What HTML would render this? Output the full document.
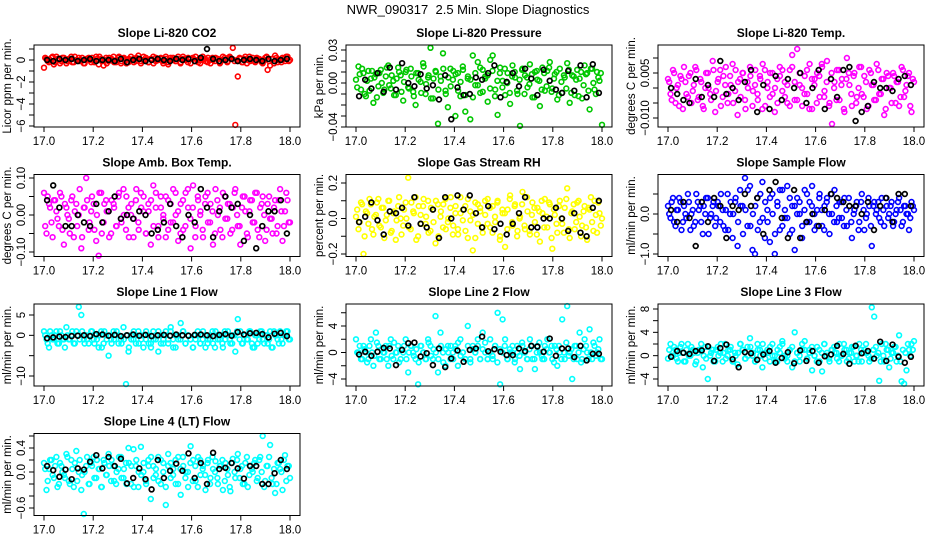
<!DOCTYPE html>
<html><head><meta charset="utf-8"><title>NWR_090317 Slope Diagnostics</title>
<style>
html,body{margin:0;padding:0;background:#fff;}
svg{display:block;font-family:"Liberation Sans",sans-serif;}
</style></head>
<body>
<svg id="chart" width="936" height="540" viewBox="0 0 936 540" xmlns="http://www.w3.org/2000/svg">
<text x="468" y="14" text-anchor="middle" font-size="13" xml:space="preserve">NWR_090317  2.5 Min. Slope Diagnostics</text>
</svg>
<script>
// ---- data (y values; x is evenly spaced sample time 17.0..18.0) ----
const xTicks = [17.0, 17.2, 17.4, 17.6, 17.8, 18.0];
const xTickLabels = ["17.0", "17.2", "17.4", "17.6", "17.8", "18.0"];

const p1Col = [-0.7,0.1,-0.2,0.2,-0.4,0.3,0.0,-0.1,0.2,-0.3,0.1,0.3,-0.2,0.0,0.2,-0.1,-0.3,0.1,0.2,-0.2,0.0,0.3,-0.4,0.1,-0.5,0.2,-0.1,0.0,0.3,-0.2,0.2,-0.3,0.1,0.0,-0.2,0.3,0.1,-0.1,0.4,-0.3,0.0,0.2,-0.2,0.1,0.3,-0.1,0.0,0.2,-0.3,0.1,-0.4,0.2,0.0,-0.1,0.3,-0.2,0.1,0.0,0.2,-0.3,0.1,0.3,-0.2,0.0,0.1,-0.1,0.2,-0.3,0.0,0.2,0.1,-0.2,0.3,0.0,-0.1,0.2,1.1,-5.9,-1.5,0.1,-0.2,0.3,0.0,-0.1,0.2,-0.2,0.1,0.0,-0.3,0.2,-0.9,-0.5,0.1,0.4,-0.2,0.0,0.2,-0.1,0.3,0.0];
const p1Col2 = [0.2,-0.1,0.0,0.3,-0.2,0.1,-0.3,0.2,0.0,-0.1,0.1,-0.2,0.3,0.0,-0.1,0.2,-0.3,0.1,0.0,0.2,-0.2,0.1,0.3,-0.1,0.0,-0.3,0.2,0.1,-0.2,0.0,0.3,-0.1,0.2,-0.3,0.1,0.0,-0.2,0.2,0.1,-0.1,0.3,0.0,-0.2,0.1,-0.3,0.2,0.0,0.1,-0.1,0.3,-0.2,0.0,0.2,-0.1,0.1,-0.3,0.3,0.0,-0.2,0.1,0.2,-0.1,0.0,-0.3,0.3,0.1,-0.2,0.0,0.2,-0.1,0.1,-0.3,0.0,0.2,-0.2,0.3,0.1,-0.1,0.0,0.2,-0.2,0.1,-0.3,0.3,0.0,-0.1,0.2,0.1,-0.2,0.0,0.3,-0.1,0.1,-0.3,0.2,0.0,-0.2,0.1,0.3,-0.1];
const p1Blk = [0.0,-0.1,0.1,0.0,0.1,-0.1,0.0,0.1,-0.1,0.0,0.0,-0.1,0.1,-0.2,0.0,0.1,-0.1,0.0,0.1,0.0,-0.1,0.1,0.0,0.1,-0.1,0.2,1.0,0.1,-0.1,0.0,0.1,-0.1,0.0,0.1,0.0,-0.1,0.1,-0.1,0.0,0.1];

const p2Col = [.003,.015,-.006,.009,-.012,.011,.004,-.018,.008,-.003,.012,-.009,.006,.016,-.005,.002,-.011,.014,.007,-.016,.010,-.004,.013,-.008,-.020,.009,.001,.018,-.010,.005,.032,-.014,.011,-.037,.006,.027,-.007,-.022,.013,.003,-.030,.009,-.012,.015,-.026,.004,-.033,.025,-.002,.019,-.009,.012,.006,-.017,.021,.025,-.006,-.029,.014,.002,-.011,.009,-.019,.016,.005,-.010,-.039,.013,.007,-.004,.017,-.013,.010,.003,-.021,.014,-.007,.011,.019,-.005,.008,-.015,.013,-.009,.005,.018,-.018,.007,-.011,.012,.004,-.014,.016,.009,-.024,.013,-.006,.010,.002,-.038];
const p2Col2 = [-.004,.008,.013,-.010,.002,-.007,.011,.005,-.013,.009,.000,-.006,.014,-.002,.007,-.011,.004,.010,-.008,.001,.012,-.005,.006,-.012,.009,.003,-.009,.015,-.001,.007,-.014,.004,.010,-.006,.002,.013,-.010,.005,-.003,.011,.008,-.007,.001,.012,-.011,.006,.003,-.013,.009,-.002,.014,-.008,.004,.007,-.005,.011,-.012,.002,.009,-.004,.013,.000,-.009,.006,.010,-.007,.003,.012,-.010,.005,-.001,.008,-.013,.011,.002,-.006,.009,-.003,.014,-.008,.004,.010,-.011,.001,.007,-.005,.012,-.009,.006,.003,-.012,.010,-.002,.008,-.007,.013,.000,-.010,.005,.009];
const p2Blk = [-.012,.003,-.005,.009,-.008,.014,-.006,.018,.000,-.003,.008,-.005,-.002,-.015,.007,-.033,-.004,-.011,-.010,.005,.003,.009,.016,-.013,.001,.009,-.003,.013,.004,-.011,.012,.002,-.006,-.009,.011,-.007,.016,-.013,.017,-.009];

const p3Col = [.003,-.002,.006,-.005,.001,.004,-.007,.002,-.003,.005,-.001,.007,-.004,.003,-.006,.000,.005,-.002,.009,-.008,.002,.006,-.003,.001,-.005,.004,.008,-.001,-.009,.003,.005,-.004,.002,.007,-.006,.001,-.002,.004,-.007,.006,.000,-.003,.005,-.008,.003,.007,-.001,.002,-.005,.006,.011,-.004,.013,.001,-.006,.004,-.002,.008,-.007,.003,.005,-.003,.007,-.001,.009,-.005,-.012,.002,.006,-.004,.003,-.008,.010,.001,-.006,.005,-.003,.007,-.002,.004,-.007,.006,.001,-.004,.008,-.002,.003,-.009,.005,.000,-.005,.004,.002,-.006,.007,-.003,.001,.005,-.008,.002];
const p3Col2 = [.002,-.004,.005,.000,-.006,.003,.007,-.002,.004,-.005,.001,.006,-.003,.002,-.007,.005,.000,-.004,.006,-.001,.003,-.006,.004,.007,-.002,.001,-.005,.006,.002,-.003,.005,-.007,.000,.004,-.001,.006,-.004,.003,.008,-.006,.002,.005,-.002,.000,-.005,.004,.006,-.003,.001,-.006,.007,.002,-.004,.005,.000,-.002,.006,-.007,.003,.001,-.005,.004,.008,-.003,.002,-.006,.005,.000,-.004,.006,.001,-.007,.003,.005,-.002,.004,-.005,.000,.007,-.003,.002,-.006,.005,.001,-.004,.006,-.002,.003,-.007,.004,.000,.005,-.005,.002,-.003,.006,-.001,.004,-.006,.003];
const p3Blk = [.000,-.002,-.004,-.005,.003,-.003,.001,-.003,.009,-.002,.000,-.004,.002,.006,-.008,.001,-.007,.004,-.004,.003,.000,.005,-.005,.000,.006,-.007,.003,-.003,.006,.007,-.011,-.008,-.006,.002,.000,.000,-.001,.003,.004,.001];

const p4Col = [.06,-.05,.03,-.02,.04,.01,-.03,.05,-.08,.02,-.01,.04,-.06,.03,.00,-.09,.02,.10,-.04,.01,.03,-.07,-.11,.06,-.02,.04,.01,-.05,.03,-.03,.05,-.01,.07,-.04,.02,.00,-.06,.04,-.02,.06,.01,-.05,.03,-.08,.08,.02,-.03,.05,-.01,-.06,.04,-.02,.07,.00,-.07,.03,-.04,.06,.02,-.09,.08,-.03,.04,.01,-.06,.05,-.02,.03,-.08,.07,.00,-.04,.06,-.01,.03,-.05,.02,.07,-.03,-.08,.05,.01,-.06,.04,-.02,.06,-.04,.02,.05,-.07,.03,-.01,-.05,.04,-.03,.07,-.07,.01,.04,-.02];
const p4Col2 = [-.03,.05,.02,-.06,.04,-.01,.06,-.04,.03,.00,-.05,.05,.01,-.03,.07,-.06,.02,.04,-.02,.05,-.04,.00,.06,-.05,.03,.01,-.06,.04,.02,-.03,.06,-.02,.00,.05,-.06,.03,-.01,.07,-.04,.02,.05,-.05,.01,.04,-.03,.06,-.06,.02,.00,.05,-.04,.03,-.02,.06,.01,-.05,.04,-.03,.07,-.01,.02,-.06,.05,.00,-.04,.03,.06,-.02,.01,-.05,.04,.02,-.06,.05,-.01,.03,-.04,.06,.00,-.03,.02,.05,-.05,.01,.04,-.02,.06,-.06,.03,.00,-.04,.05,-.01,.02,-.05,.04,.01,-.03,.06,-.02];
const p4Blk = [.04,.08,.02,-.03,-.03,.00,-.02,-.03,.03,-.02,.01,.05,-.01,.00,-.01,.01,.00,-.05,-.04,-.02,.03,-.03,-.06,.00,-.02,.07,.02,-.06,.01,.05,.02,.03,-.07,.00,-.09,-.03,.01,.01,.04,-.05];

const p5Col = [.01,-.06,.09,-.20,.04,-.03,.08,-.09,.02,.11,-.05,.06,-.01,.10,-.08,.03,-.12,.07,.00,-.04,.09,.23,-.06,.04,.12,-.10,.02,.07,-.03,.10,-.07,.05,-.14,.08,.01,-.05,.11,-.02,.06,-.09,.03,-.06,.12,-.01,.07,-.11,.04,-.18,.09,-.03,.06,-.08,.02,.11,-.05,.07,-.02,.10,-.10,.03,-.16,.05,.13,-.04,.08,-.07,.01,.15,-.06,.04,-.09,.09,-.02,.06,-.13,.03,.11,-.05,.08,-.17,.02,-.08,.10,-.03,.06,.17,-.11,.04,-.06,.09,.01,-.04,.07,-.12,.05,-.02,.10,-.08,.03,.00];
const p5Col2 = [.05,-.02,.08,-.10,.03,.11,-.06,.01,.09,-.04,.06,-.11,.02,.10,-.07,.04,-.01,.12,-.09,.05,.00,-.05,.09,.03,-.12,.07,-.03,.11,.01,-.08,.06,-.02,.10,-.10,.04,.08,-.06,.00,.12,-.04,.07,-.09,.03,.05,-.07,.11,-.01,.02,-.11,.08,.04,-.05,.10,-.03,.06,-.08,.01,.09,-.12,.05,.03,-.06,.11,-.02,.07,-.10,.00,.08,-.04,.12,-.07,.02,.06,-.09,.04,.10,-.05,.01,.09,-.11,.05,-.03,.07,.00,-.08,.11,-.06,.03,.08,-.02,.10,-.10,.04,-.05,.06,.12,-.07,.02,.09,-.04];
const p5Blk = [-.02,.01,.09,-.01,-.09,.04,.03,.06,-.04,.12,-.03,-.05,.05,-.11,.12,.00,.13,.05,.13,.03,-.05,.07,-.06,-.03,-.09,-.03,.03,.12,-.05,-.05,.00,.00,.06,.00,-.07,.03,-.08,-.10,.06,.10];

const p6Col = [.2,-.1,.4,-.3,.1,.3,-.2,.0,.5,-.4,.1,-.2,.3,.2,-.5,.0,.4,-.1,.2,-.3,.3,-.2,.1,-.4,.5,.0,-.6,.3,-.8,.6,.2,.9,-.3,.7,-.9,-1.0,.4,-.2,.8,-.6,.1,-.7,.5,-1.0,.3,-.4,.6,-.1,.7,-.5,.2,-.9,.4,.0,-.3,.6,-.2,.3,.7,-.4,.1,.5,-.3,.2,.4,-.5,.0,.6,-.2,.3,-.1,.4,-.3,.2,-.6,.1,.3,-.2,.5,-.4,.0,.2,-.8,.3,.1,-.1,.4,-.3,.2,.0,.3,-.2,.1,.4,-.3,.2,.0,-.4,.3,.1];
const p6Col2 = [.0,.3,-.2,.1,.4,-.4,.2,-.1,.3,.0,-.3,.5,.1,-.2,.2,.4,-.5,.0,.3,-.1,.2,.5,-.3,.1,-.4,.3,.0,.4,-.2,.2,-.5,.1,.6,-.3,.0,.2,-.4,.5,-.1,.3,-.2,.4,.0,-.5,.2,.6,-.3,.1,-.1,.4,-.4,.2,.0,.3,-.6,.1,.5,-.2,.2,.0,-.3,.4,.1,-.4,.3,.0,.5,-.2,.2,-.1,.3,-.3,.1,.4,-.2,.0,.2,-.4,.3,.1,-.1,.4,-.3,.2,.0,.3,-.2,.1,.4,-.1,.2,-.3,.0,.3,.1,-.2,.2,.0,-.1,.2];
const p6Blk = [.1,-.2,.3,-.1,-.8,.3,-.2,.4,.2,-.6,.2,.1,.5,.2,.4,-.5,.6,.8,-.1,-.6,.6,-.6,-.2,.0,-.3,.1,.5,.4,.3,.2,.2,.0,.3,-.4,.2,.4,-.2,.5,.5,.2];

const p7Col = [1,-1,-3,0,-1,1,-2,0,-1,2,-1,0,-2,1,7,5,-1,0,-2,1,-1,0,-3,1,-2,0,-5,-1,1,0,-2,-1,2,-12,-4,0,-1,-2,1,0,-3,-1,0,-2,1,-1,-4,0,-2,1,-1,2,-3,0,-1,3,1,-2,0,-1,-3,-1,0,-2,1,-3,-1,0,-2,1,-1,0,-3,-1,1,-2,0,-4,4,1,-2,0,-1,1,-3,0,-2,1,-1,0,-2,1,-3,0,-1,1,-2,0,1,-1];
const p7Col2 = [0,-2,1,-1,0,-2,1,-1,-3,0,-1,1,-2,0,-1,1,-2,-1,0,1,-2,-1,0,-3,1,-1,0,-2,-1,1,0,-2,-1,0,-3,-1,1,0,-2,-1,0,1,-2,-3,-1,0,1,-2,-1,0,-2,1,-1,-3,0,-1,1,-2,0,-1,-3,0,1,-2,-1,0,-2,-1,1,-3,0,-1,-2,1,0,-1,-2,0,1,-1,-2,0,-1,1,-2,-3,0,-1,1,-2,0,-1,-3,1,0,-2,-1,0,1,-1];
const p7Blk = [-.7,-.5,-.3,-.4,-.2,-.1,.0,-.2,.3,.2,-.1,.1,-.2,.0,.2,-.1,.1,-.2,.0,.1,-.1,.2,.0,-.1,.1,.2,.0,-.2,.1,.3,-.1,.8,.2,.5,.6,.3,-.5,.4,.6,-.2];

const p8Col = [2,0,-1,1,0,-1,2,-2,3,1,-1,0,1,-2,2,-1,0,1,-1,0,2,-3,1,0,-1,-4.8,1,0,-1,2,1,-1,5.5,-3,3,0,-2,1,-1,0,1,-2,2,0,-1,4,-1,1,0,2,-1,3,0,-1,2,-1,1,6,-4.8,5,2,-1,0,1,-1,0,-2.5,1,0,-1,2,-1,-2.5,1,0,-1,1,2,0,-1,1,-2,0,5,-1,7,0,-4,1,-1,3,-1,2,0,3.5,-1,1,0,2,-1];
const p8Col2 = [0,1,-1,.5,-1.5,1,0,-.5,1.5,-1,.5,0,-1,1,-.5,1.5,0,-1.5,.5,1,-1,0,1,-.5,.5,-1.5,1,0,-1,1.5,-.5,.5,0,-1,1,-1.5,.5,0,1,-1,.5,1.5,-.5,0,-1,1,-1.5,.5,0,1,-1,.5,1.5,-1,0,-.5,1,-1.5,.5,0,1,-1,.5,0,-1.5,1,-.5,1.5,0,-1,.5,1,-1,0,1.5,-.5,-1,.5,0,1,-1.5,.5,1,-1,0,1.5,-.5,.5,-1,1,0,-1.5,.5,1,-1,0,1.5,-.5,.5,-1];
const p8Blk = [-.3,.1,-.5,.1,.7,.6,-1.9,.4,1.4,1.5,-.6,-.1,-1.9,.6,-2.2,-.9,.3,-1.4,.4,.6,2.4,.2,.5,.1,-.4,-.4,.6,.2,1,.9,.1,2.1,-.5,.6,.6,-.7,1,-1.2,-.2,-.2];

const p9Col = [-.5,2,0,1,-1,1.5,.5,-1,2,0,1,-1.5,.5,1,-2,1.5,-4,0,1,-1,1.5,.5,-1,2,0,1,-1,.5,-1.5,2,1,-.5,1.5,3,0,-1,2,1,-2,.5,1,-1,2,0,-1,1.5,2.5,0,-1,1,-2,4,.5,-1,1,2.5,-.5,1,-2.5,0,1.5,-1,-2.7,2,.5,-1,1,.5,-.5,2,0,1,-1,.5,1.5,-1,0,2,-1,1,.5,-1,8.3,6.7,0,-4.3,2,-1,1,-2,.5,1.5,-1,3.5,-4.4,-4.8,-2.5,1,2,2.5];
const p9Col2 = [1,0,1.5,-.5,.5,2,-1,1,0,1.5,.5,-1,1,2,0,-.5,1.5,.5,-1,1,0,2,.5,-.5,1,1.5,-1,0,.5,2,1,-.5,0,1.5,.5,-1,1,0,2,-.5,.5,1.5,0,-1,1,.5,2,-.5,0,1,1.5,-1,.5,0,2,1,-.5,.5,1.5,0,-1,1,.5,2,0,-.5,1,1.5,.5,-1,0,2,1,-.5,.5,1.5,0,-1,1,.5,2,0,-.5,1,1.5,.5,-1,0,2,1,-.5,.5,1.5,0,-1,1,.5,2,0,1];
const p9Blk = [-.2,.8,.5,.3,.8,.9,1.6,-.9,1.3,1.9,-.6,-2,.6,.4,-.7,.2,.8,-1.2,-.4,.6,-1.3,.9,-.9,.8,-1.2,-.1,.2,1.7,.3,-1.4,1.7,.4,.8,-.5,2.4,-.9,1.9,-.2,-1.2,-.2];

const p10Col = [.15,-.3,.05,.2,-.1,.25,-.2,.1,-.05,.3,-.15,.2,-.25,.35,.0,-.3,-.7,.1,-.2,.15,.25,-.1,.05,-.25,.2,-.05,.3,-.15,.1,-.2,.05,.25,-.1,.15,.4,-.2,.38,.1,-.25,.42,.0,-.15,.2,-.45,.1,-.05,.25,-.2,.15,-.55,.3,-.1,.05,-.2,.25,-.38,.1,.0,-.25,.43,.2,-.15,.25,-.05,.1,-.3,.2,-.1,.05,.18,-.2,.1,-.3,.15,-.05,-.32,.22,-.1,.3,.05,-.2,.15,-.25,.1,.0,.2,-.1,.25,.6,-.15,.1,.45,-.2,-.35,.15,.05,-.3,.28,.1,-.1];
const p10Col2 = [.05,-.15,.2,-.05,.1,-.25,.15,.0,-.1,.25,-.2,.05,.15,-.15,.2,-.05,.0,.25,-.2,.1,-.1,.2,.05,-.25,.15,-.05,.1,.2,-.15,.0,.25,-.1,.05,-.2,.15,.1,-.25,.2,.0,-.05,.15,-.2,.1,.25,-.1,.05,-.15,.2,.0,-.25,.1,.15,-.05,.2,-.2,.05,.25,-.1,.0,.15,-.15,.1,-.25,.2,.05,-.05,.15,-.2,.25,.0,-.1,.1,.2,-.15,.05,-.25,.15,.0,.2,-.1,.1,-.2,.25,-.05,.05,.15,-.15,.2,.0,-.25,.1,.25,-.1,.05,-.2,.15,.0,.2,-.15,.1];
const p10Blk = [.1,.03,-.08,.04,-.12,.06,.04,.17,.28,.06,.25,.1,.22,-.19,-.1,.06,-.12,-.29,.2,-.1,.02,.14,.02,.31,-.1,.15,-.2,.32,.05,.07,.15,.06,-.11,.1,.1,-.2,-.2,-.02,.2,.05];

const p1Ticks = [1,0,-1,-2,-3,-4,-5,-6];
const p1Labels = [[0,"0"],[-2,"\u22122"],[-4,"\u22124"],[-6,"\u22126"]];
const p2Ticks = [.03,.02,.01,0,-.01,-.02,-.03,-.04];
const p2Labels = [[.03,"0.03"],[0,"0.00"],[-.04,"\u22120.04"]];
const p3Ticks = [.01,.005,0,-.005,-.01];
const p3Labels = [[.005,"0.005"],[-.01,"\u22120.010"]];
const p4Ticks = [.1,.05,0,-.05,-.1];
const p4Labels = [[.1,"0.10"],[0,"0.00"],[-.1,"\u22120.10"]];
const p5Ticks = [.2,.1,0,-.1,-.2];
const p5Labels = [[.2,"0.2"],[0,"0.0"],[-.2,"\u22120.2"]];
const p6Ticks = [.5,0,-.5,-1];
const p6Labels = [[0,"0.0"],[-1,"\u22121.0"]];
const p7Ticks = [5,0,-5,-10];
const p7Labels = [[5,"5"],[0,"0"],[-10,"\u221210"]];
const p8Ticks = [6,4,2,0,-2,-4];
const p8Labels = [[4,"4"],[0,"0"],[-4,"\u22124"]];
const p9Ticks = [8,6,4,2,0,-2,-4];
const p9Labels = [[8,"8"],[4,"4"],[0,"0"],[-4,"\u22124"]];
const p10Ticks = [.6,.4,.2,0,-.2,-.4,-.6];
const p10Labels = [[.4,"0.4"],[0,"0.0"],[-.6,"\u22120.6"]];

// ---- layout ----
const NS = "http://www.w3.org/2000/svg";
const svg = document.getElementById("chart");
const rowTops = [45, 174.5, 304, 433.5];
const boxH = 82;

const panels = [
 {key:"co2", title:"Slope Li-820 CO2", ylab:"Licor ppm per min.", col:"#FF0000", c:0, r:0, data:p1Col, data2:p1Col2, blk:p1Blk, ticks:p1Ticks, labels:p1Labels, ref:[0,15,-6,81]},
 {key:"pressure", title:"Slope Li-820 Pressure", ylab:"kPa per min.", col:"#00C800", c:1, r:0, data:p2Col, data2:p2Col2, blk:p2Blk, ticks:p2Ticks, labels:p2Labels, ref:[.03,5,-.04,82]},
 {key:"li820-temp", title:"Slope Li-820 Temp.", ylab:"degrees C per min.", col:"#FF00FF", c:2, r:0, data:p3Col, data2:p3Col2, blk:p3Blk, ticks:p3Ticks, labels:p3Labels, ref:[.005,28,-.01,73]},
 {key:"amb-box-temp", title:"Slope Amb. Box Temp.", ylab:"degrees C per min.", col:"#FF00FF", c:0, r:1, data:p4Col, data2:p4Col2, blk:p4Blk, ticks:p4Ticks, labels:p4Labels, ref:[.1,3.5,-.1,77.5]},
 {key:"gas-stream-rh", title:"Slope Gas Stream RH", ylab:"percent per min.", col:"#FFFF00", c:1, r:1, data:p5Col, data2:p5Col2, blk:p5Blk, ticks:p5Ticks, labels:p5Labels, ref:[.2,8.5,-.2,79.5]},
 {key:"sample-flow", title:"Slope Sample Flow", ylab:"ml/min per min.", col:"#0000FF", c:2, r:1, data:p6Col, data2:p6Col2, blk:p6Blk, ticks:p6Ticks, labels:p6Labels, ref:[0,39.5,-1,79.5]},
 {key:"line1-flow", title:"Slope Line 1 Flow", ylab:"ml/min per min.", col:"#00FFFF", c:0, r:2, data:p7Col, data2:p7Col2, blk:p7Blk, ticks:p7Ticks, labels:p7Labels, ref:[5,11,-10,72]},
 {key:"line2-flow", title:"Slope Line 2 Flow", ylab:"ml/min per min.", col:"#00FFFF", c:1, r:2, data:p8Col, data2:p8Col2, blk:p8Blk, ticks:p8Ticks, labels:p8Labels, ref:[4,22,-4,75]},
 {key:"line3-flow", title:"Slope Line 3 Flow", ylab:"ml/min per min.", col:"#00FFFF", c:2, r:2, data:p9Col, data2:p9Col2, blk:p9Blk, ticks:p9Ticks, labels:p9Labels, ref:[8,5,-4,75]},
 {key:"line4-flow", title:"Slope Line 4 (LT) Flow", ylab:"ml/min per min.", col:"#00FFFF", c:0, r:3, data:p10Col, data2:p10Col2, blk:p10Blk, ticks:p10Ticks, labels:p10Labels, ref:[.4,14.5,-.6,74.5]}
];

function mk(tag, attrs, parent) {
  const el = document.createElementNS(NS, tag);
  for (const k in attrs) el.setAttribute(k, attrs[k]);
  parent.appendChild(el);
  return el;
}

panels.forEach(p => {
  const g = mk("g", {}, svg);
  
  
  const left = 312 * p.c + 34, right = 312 * p.c + 300;
  const top = rowTops[p.r], bottom = top + boxH;
  const xScale = v => (left + 10) + (v - 17) / (18 - 17) * (right - left - 20);
  const [v0, y0, v1, y1] = p.ref;
  const yScale = v => top + y0 + (v - v0) / (v1 - v0) * (y1 - y0);

  const t = mk("text", {x:(left+right)/2, y:top-8, "text-anchor":"middle", "font-size":"12", "font-weight":"bold"}, g);
  t.textContent = p.title;
  
  

  const yl = mk("text", {x:0, y:0, "text-anchor":"middle", "font-size":"11.5", transform:`translate(${left-23},${top+boxH/2}) rotate(-90)`}, g);
  yl.textContent = p.ylab;
  
  

  const pts = mk("g", {fill:"none", stroke:p.col, "stroke-width":"1.6"}, g);
  
  
  const n = p.data.length;
  p.data.forEach((v, i) => {
    const c = mk("circle", {cx:xScale(17 + i/(n-1)).toFixed(1), cy:yScale(v).toFixed(1), r:"2.4"}, pts);
    
    
  });
  const n2 = p.data2.length;
  p.data2.forEach((v, i) => {
    const c = mk("circle", {cx:xScale(17 + (i+0.5)/n2).toFixed(1), cy:yScale(v).toFixed(1), r:"2.4"}, pts);
    
    
  });

  const bpts = mk("g", {fill:"none", stroke:"#000", "stroke-width":"1.7"}, g);
  
  
  const m = p.blk.length;
  p.blk.forEach((v, i) => {
    const c = mk("circle", {cx:xScale(17 + (i+0.5)/m).toFixed(1), cy:yScale(v).toFixed(1), r:"2.4"}, bpts);
    
    
  });

  const box = mk("rect", {x:left, y:top, width:right-left, height:boxH, fill:"none", stroke:"#000", "stroke-width":"1"}, g);
  
  

  const xa = mk("g", {stroke:"#000", "stroke-width":"1"}, g);
  
  
  xTicks.forEach((v, i) => {
    const x = xScale(v);
    mk("line", {x1:x, x2:x, y1:bottom, y2:bottom+5}, xa);
    const lt = mk("text", {x:x, y:bottom+18, "text-anchor":"middle", "font-size":"11.5", stroke:"none", fill:"#000"}, xa);
    lt.textContent = xTickLabels[i];
    
    
  });

  const ya = mk("g", {stroke:"#000", "stroke-width":"1"}, g);
  
  
  p.ticks.forEach(v => {
    const y = yScale(v);
    mk("line", {x1:left-5, x2:left, y1:y, y2:y}, ya);
  });
  p.labels.forEach(([v, s]) => {
    const y = yScale(v);
    const lt = mk("text", {x:0, y:0, "text-anchor":"middle", "font-size":"11.5", stroke:"none", fill:"#000", transform:`translate(${left-9},${y}) rotate(-90)`}, ya);
    lt.textContent = s;
    
    
  });
});
</script>
</body></html>
